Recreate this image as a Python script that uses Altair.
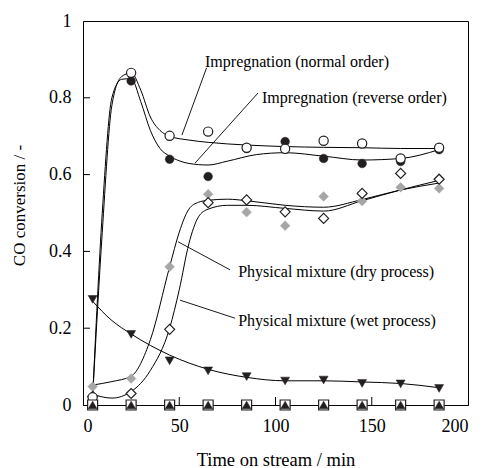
import altair as alt
import pandas as pd

# ---- measured data (markers) ----
t = [5, 25, 45, 65, 85, 105, 125, 145, 165, 185]
imp_normal = [0.02, 0.865, 0.701, 0.712, 0.670, 0.667, 0.688, 0.681, 0.642, 0.670]
imp_reverse = [0.01, 0.844, 0.640, 0.595, 0.668, 0.686, 0.642, 0.629, 0.634, 0.665]
phys_dry = [0.048, 0.069, 0.360, 0.549, 0.502, 0.467, 0.543, 0.531, 0.567, 0.564]
phys_wet = [0.022, 0.030, 0.197, 0.527, 0.534, 0.503, 0.486, 0.551, 0.603, 0.588]
tri_down = [0.275, 0.184, 0.115, 0.089, 0.074, 0.0625, 0.065, 0.056, 0.055, 0.043]
zero_sq = [0, 0, 0, 0, 0, 0, 0, 0, 0, 0]
zero_tri = [0, 0, 0, 0, 0, 0, 0, 0, 0, 0]

# ---- fitted curves ----
cn_x = [5, 10, 15, 20, 25, 30, 35, 40, 45, 55, 65, 85, 105, 125, 145, 165, 185]
cn_y = [0.02, 0.45, 0.78, 0.855, 0.865, 0.82, 0.75, 0.715, 0.70, 0.69, 0.684, 0.677, 0.673, 0.671, 0.670, 0.668, 0.668]
cr_x = [5, 10, 15, 20, 25, 30, 35, 40, 45, 50, 55, 65, 75, 90, 105, 125, 145, 165, 185]
cr_y = [0.02, 0.50, 0.80, 0.848, 0.85, 0.79, 0.715, 0.668, 0.648, 0.636, 0.629, 0.625, 0.635, 0.652, 0.657, 0.648, 0.638, 0.642, 0.665]
cd_x = [5, 15, 25, 35, 45, 50, 55, 60, 65, 75, 85, 105, 125, 145, 165, 185]
cd_y = [0.052, 0.061, 0.075, 0.17, 0.36, 0.45, 0.51, 0.528, 0.533, 0.536, 0.532, 0.52, 0.515, 0.535, 0.56, 0.578]
cw_x = [5, 15, 25, 35, 45, 50, 55, 60, 65, 75, 85, 105, 125, 145, 165, 185]
cw_y = [0.028, 0.018, 0.035, 0.09, 0.20, 0.30, 0.42, 0.49, 0.51, 0.52, 0.52, 0.512, 0.505, 0.532, 0.56, 0.585]
ct_x = [5, 15, 25, 45, 65, 85, 105, 125, 145, 165, 185]
ct_y = [0.27, 0.22, 0.185, 0.13, 0.093, 0.072, 0.063, 0.063, 0.06, 0.056, 0.045]

# ---- annotations ----
lab_text = ["Impregnation (normal order)", "Impregnation (reverse order)",
            "Physical mixture (dry process)", "Physical mixture (wet process)"]
lab_x = [63.4, 93.0, 80.6, 80.6]
lab_y = [0.893, 0.80, 0.347, 0.219]
ld_x1 = [64.2, 90.9, 76.4, 79.0]
ld_y1 = [0.878, 0.8125, 0.352, 0.226]
ld_x2 = [51.4, 58.2, 49.4, 50.4]
ld_y2 = [0.703, 0.630, 0.425, 0.273]

y_ticks = [0.2, 0.4, 0.6, 0.8]
x_ticks = [50, 100, 150]

FONT = "Times New Roman, Liberation Serif, DejaVu Serif, serif"
W, H = 385, 384

xs = alt.Scale(domain=[0, 200], nice=False)
ys = alt.Scale(domain=[0, 1], nice=False)

curves = pd.concat([
    pd.DataFrame({"x": cn_x, "y": cn_y, "s": "normal"}),
    pd.DataFrame({"x": cr_x, "y": cr_y, "s": "reverse"}),
    pd.DataFrame({"x": cd_x, "y": cd_y, "s": "dry"}),
    pd.DataFrame({"x": cw_x, "y": cw_y, "s": "wet"}),
    pd.DataFrame({"x": ct_x, "y": ct_y, "s": "tri"}),
])

base_x = alt.X("x:Q", scale=xs,
               axis=alt.Axis(values=[0, 50, 100, 150, 200], title="Time on stream / min",
                             tickSize=0, labelPadding=12, titleY=54, titleBaseline="middle",
                             titleFontSize=18.5))
base_y = alt.Y("y:Q", scale=ys,
               axis=alt.Axis(values=[0, 0.2, 0.4, 0.6, 0.8, 1], format="~g", title="CO conversion / -",
                             tickSize=0, labelPadding=12, titleX=-64, titleY=184,
                             titleBaseline="middle", titleFontSize=17))

curve_layer = alt.Chart(curves).mark_line(color="black", strokeWidth=1, interpolate="monotone").encode(
    x=base_x, y=base_y, detail="s:N")

def pts(yvals, shape, fill, stroke, size, sw=1.2):
    df = pd.DataFrame({"x": t, "y": yvals})
    return alt.Chart(df).mark_point(shape=shape, filled=True, fill=fill, stroke=stroke,
                                    size=size, strokeWidth=sw, opacity=1).encode(
        x=alt.X("x:Q", scale=xs), y=alt.Y("y:Q", scale=ys))

p_sq = pts(zero_sq, "square", "white", "#231f20", 100)
p_trz = pts(zero_tri, "triangle-up", "#231f20", "#231f20", 80, 0.5)
p_tri = pts(tri_down, "triangle-down", "#231f20", "#231f20", 80, 0.5)
p_dry = pts(phys_dry, "diamond", "#a6a6a6", "#a6a6a6", 95, 0.5)
p_wet = pts(phys_wet, "diamond", "white", "#231f20", 100)
p_rev = pts(imp_reverse, "circle", "#231f20", "#231f20", 75, 0.5)
p_nor = pts(imp_normal, "circle", "white", "#231f20", 85)

yt = alt.Chart(pd.DataFrame({"y": y_ticks})).mark_rule(color="black", strokeWidth=1).encode(
    y=alt.Y("y:Q", scale=ys), x=alt.value(0), x2=alt.value(7))
xt = alt.Chart(pd.DataFrame({"x": x_ticks})).mark_rule(color="black", strokeWidth=1).encode(
    x=alt.X("x:Q", scale=xs), y=alt.value(H), y2=alt.value(H - 8))

leaders = alt.Chart(pd.DataFrame({"x": ld_x1, "y": ld_y1, "x2": ld_x2, "y2": ld_y2})).mark_rule(
    color="black", strokeWidth=0.9).encode(
    x=alt.X("x:Q", scale=xs), y=alt.Y("y:Q", scale=ys), x2="x2:Q", y2="y2:Q")

labels = alt.Chart(pd.DataFrame({"x": lab_x, "y": lab_y, "t": lab_text})).mark_text(
    align="left", baseline="middle", font=FONT, fontSize=16, color="black").encode(
    x=alt.X("x:Q", scale=xs), y=alt.Y("y:Q", scale=ys), text="t:N")

chart = alt.layer(
    curve_layer, leaders, labels, yt, xt,
    p_tri, p_dry, p_wet, p_rev, p_nor, p_sq, p_trz,
).properties(
    width=W, height=H,
    autosize=alt.AutoSizeParams(type="none"),
    padding={"left": 83, "top": 21, "right": 15, "bottom": 63},
).configure_view(
    stroke="black", strokeWidth=1
).configure_axis(
    grid=False, domainColor="black", domainWidth=1,
    labelFont=FONT, titleFont=FONT, labelFontSize=18,
    labelColor="black", titleColor="black", titleFontWeight="normal",
)

chart.save("out.html", embed_options={"renderer": "svg", "actions": False})
